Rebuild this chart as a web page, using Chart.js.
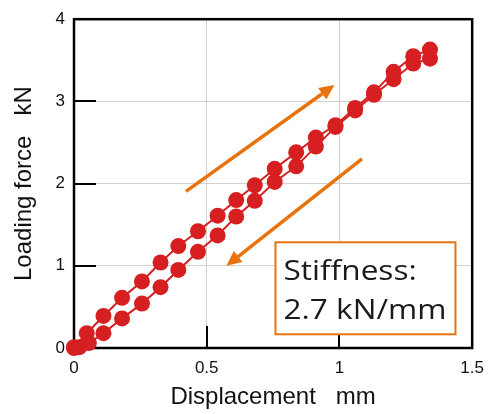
<!DOCTYPE html>
<html>
<head>
<meta charset="utf-8">
<script src="https://cdn.jsdelivr.net/npm/chart.js@4.4.1/dist/chart.umd.min.js"></script>
<style>
  html, body { margin: 0; padding: 0; background: #fff; }
  #wrap { width: 494px; height: 414px; }
</style>
</head>
<body>
<div id="wrap"><canvas id="c" width="494" height="414"></canvas></div>
<script>
// displacement (mm) / loading force (kN)
const upperDisp = [0, 0.048, 0.111, 0.181, 0.256, 0.326, 0.393, 0.467, 0.541, 0.611, 0.681, 0.756, 0.837, 0.911, 0.985, 1.059, 1.13, 1.204, 1.278, 1.341];
const upperForce = [0.01, 0.18, 0.39, 0.61, 0.81, 1.04, 1.24, 1.42, 1.61, 1.80, 1.98, 2.18, 2.38, 2.56, 2.71, 2.92, 3.11, 3.36, 3.55, 3.63];
const lowerDisp = [0, 0.02, 0.056, 0.111, 0.181, 0.256, 0.326, 0.393, 0.467, 0.541, 0.611, 0.681, 0.756, 0.837, 0.911, 0.985, 1.059, 1.13, 1.204, 1.278, 1.341];
const lowerForce = [0, 0.01, 0.06, 0.18, 0.36, 0.54, 0.74, 0.95, 1.17, 1.37, 1.60, 1.79, 2.02, 2.21, 2.45, 2.69, 2.89, 3.08, 3.27, 3.46, 3.52];
const xTicks = [0, 0.5, 1, 1.5];
const yTicks = [0, 1, 2, 3, 4];
const stiffnessLines = ['Stiffness:', '2.7 kN/mm'];

const RED = '#d61f21';
const ORANGE = '#e8730e';

function toPoints(xs, ys) {
  return xs.map((x, i) => ({ x: x, y: ys[i] }));
}

// arrows and text box, in data units
const notes = {
  up: [0.422, 1.905, 0.981, 3.2],
  down: [1.085, 2.3, 0.574, 1.0],
  box: [0.759, 1.286, 1.437, 0.167]
};

const extras = {
  id: 'extras',
  beforeDatasetsDraw(chart) {
    const { ctx, chartArea: a, scales: { x, y } } = chart;
    ctx.save();
    // inward tick marks
    ctx.strokeStyle = '#000';
    ctx.lineWidth = 2;
    ctx.beginPath();
    [1, 2, 3].forEach(v => {
      const py = Math.round(y.getPixelForValue(v));
      ctx.moveTo(a.left, py);
      ctx.lineTo(a.left + 22, py);
    });
    [0.5, 1].forEach(v => {
      const px = Math.round(x.getPixelForValue(v));
      ctx.moveTo(px, a.bottom);
      ctx.lineTo(px, a.bottom - 22);
    });
    ctx.stroke();
    // frame
    ctx.lineWidth = 2.5;
    ctx.strokeRect(a.left, a.top, a.right - a.left, a.bottom - a.top);
    ctx.restore();
  },
  afterDraw(chart) {
    const { ctx, scales: { x, y } } = chart;
    ctx.save();
    const arrow = (d) => {
      const x0 = x.getPixelForValue(d[0]), y0 = y.getPixelForValue(d[1]);
      const x1 = x.getPixelForValue(d[2]), y1 = y.getPixelForValue(d[3]);
      const ang = Math.atan2(y1 - y0, x1 - x0);
      const hl = 15, hw = 7;
      const bx = x1 - hl * Math.cos(ang), by = y1 - hl * Math.sin(ang);
      ctx.strokeStyle = ORANGE;
      ctx.fillStyle = ORANGE;
      ctx.lineWidth = 3.5;
      ctx.beginPath();
      ctx.moveTo(x0, y0);
      ctx.lineTo(bx, by);
      ctx.stroke();
      ctx.beginPath();
      ctx.moveTo(x1, y1);
      ctx.lineTo(bx + hw * Math.sin(ang), by - hw * Math.cos(ang));
      ctx.lineTo(bx - hw * Math.sin(ang), by + hw * Math.cos(ang));
      ctx.closePath();
      ctx.fill();
    };
    arrow(notes.up);
    arrow(notes.down);

    const b = notes.box;
    const bx0 = x.getPixelForValue(b[0]), by0 = y.getPixelForValue(b[1]);
    const bx1 = x.getPixelForValue(b[2]), by1 = y.getPixelForValue(b[3]);
    ctx.fillStyle = '#fff';
    ctx.fillRect(bx0, by0, bx1 - bx0, by1 - by0);
    ctx.strokeStyle = ORANGE;
    ctx.lineWidth = 2;
    ctx.strokeRect(bx0, by0, bx1 - bx0, by1 - by0);
    ctx.fillStyle = '#1a1a1a';
    ctx.font = '27px "Open Sans", sans-serif';
    ctx.textBaseline = 'alphabetic';
    ctx.textAlign = 'left';
    // the source text is a wide face; stretch to the same width
    const sx = 163 / ctx.measureText(stiffnessLines[1]).width;
    ctx.translate(bx0 + 8, 0);
    ctx.scale(sx, 1);
    ctx.fillText(stiffnessLines[0], 0, by0 + 38);
    ctx.fillText(stiffnessLines[1], 0, by0 + 77);
    ctx.restore();
  }
};

const series = (pts) => ({
  data: pts,
  showLine: true,
  borderColor: RED,
  backgroundColor: RED,
  borderWidth: 2,
  pointRadius: 8,
  pointBorderWidth: 0,
  pointBackgroundColor: RED,
  clip: false
});

const FONT = 'Liberation Sans, Arial, sans-serif';

new Chart(document.getElementById('c').getContext('2d'), {
  type: 'scatter',
  data: {
    datasets: [
      series(toPoints(upperDisp, upperForce)),
      series(toPoints(lowerDisp, lowerForce))
    ]
  },
  options: {
    responsive: false,
    animation: false,
    layout: { padding: { top: 12, right: 15, left: 0, bottom: 0 } },
    plugins: { legend: { display: false }, tooltip: { enabled: false } },
    scales: {
      x: {
        type: 'linear',
        min: 0,
        max: 1.5,
        afterBuildTicks: s => { s.ticks = xTicks.map(v => ({ value: v })); },
        afterFit: s => { s.height = 66; },
        grid: { color: '#d0d0d0', lineWidth: 1, drawTicks: false },
        border: { display: false },
        ticks: {
          padding: 10,
          color: '#111',
          font: { family: FONT, size: 17 },
          callback: v => String(v)
        },
        title: {
          display: true,
          text: 'Displacement   mm',
          color: '#111',
          font: { family: FONT, size: 24 },
          padding: { top: 0, bottom: 2 }
        }
      },
      y: {
        type: 'linear',
        min: 0,
        max: 4,
        afterBuildTicks: s => { s.ticks = yTicks.map(v => ({ value: v })); },
        afterFit: s => { s.width = 74; },
        grid: { color: '#d0d0d0', lineWidth: 1, drawTicks: false },
        border: { display: false },
        ticks: {
          padding: 9,
          color: '#111',
          font: { family: FONT, size: 17 },
          callback: v => String(v)
        },
        title: {
          display: true,
          text: 'Loading force   kN',
          color: '#111',
          font: { family: FONT, size: 24 },
          padding: { top: 10, bottom: 0 }
        }
      }
    }
  },
  plugins: [extras]
});
</script>
</body>
</html>
